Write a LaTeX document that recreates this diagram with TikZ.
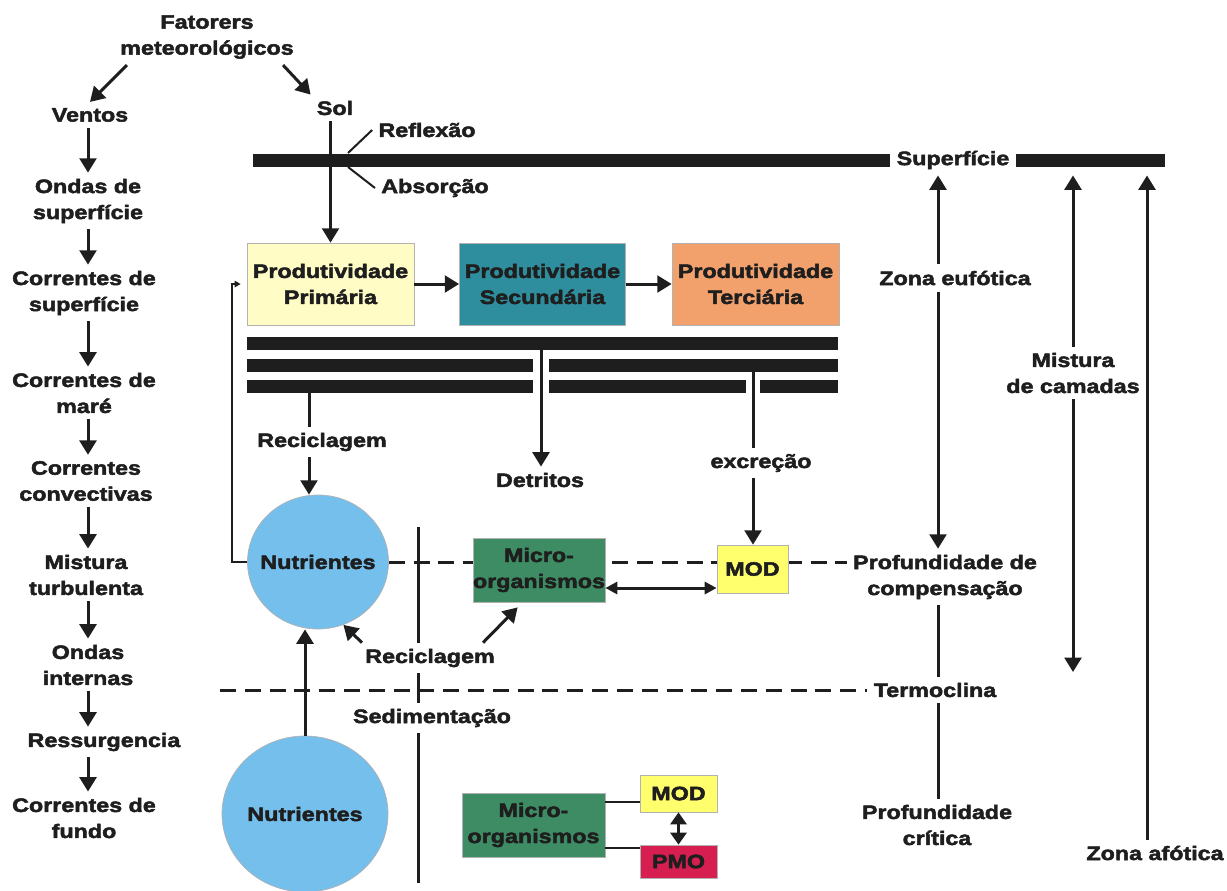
\documentclass[tikz,border=0pt]{standalone}
\usepackage{fontspec}
\setmainfont{Liberation Sans}[FakeStretch=1.2, BoldFeatures={FakeBold=2.5}]
\usepackage{tikz}
\usetikzlibrary{shapes.geometric, arrows.meta, backgrounds, calc}

\definecolor{tinta}{RGB}{30,30,30}
\definecolor{primcor}{RGB}{255,252,198}
\definecolor{seccor}{RGB}{46,142,158}
\definecolor{tercor}{RGB}{242,160,108}
\definecolor{nutcor}{RGB}{116,191,236}
\definecolor{miccor}{RGB}{62,140,100}
\definecolor{modcor}{RGB}{255,255,110}
\definecolor{pmocor}{RGB}{214,30,80}

\begin{document}
\begin{tikzpicture}[x = 0.025cm, y = -0.025cm, line width = 0.075cm, color = tinta,
    >={Triangle[length = 0.36cm, width = 0.42cm]},
    rotulo/.style = {font = \fontsize{13.8}{18.5}\selectfont\bfseries, text = tinta, align = center, inner sep = 0.12cm},
    caixa/.style = {rotulo, draw = gray!60, line width = 0.5pt, inner sep = 0pt},
    bola/.style = {caixa, ellipse},
    barra/.style = {line width = 0.325cm},
    tracejado/.style = {draw = tinta, line width = 0.075cm, dash pattern = on 0.4cm off 0.22cm},
    fino/.style = {line width = 0.05cm},
    laco/.style = {fino, -{Triangle[length = 0.15cm, width = 0.16cm]}, shorten > = 0.15cm},
    duplo/.style = {<->, >={Triangle[length = 0.3cm, width = 0.3cm]}},
    gordo/.style = {<->, >={Triangle[length = 0.3cm, width = 0.4cm]}}]
    \def \upx {0.025cm} % one pixel of the drawing

    \useasboundingbox (0,0) rectangle (1227,890);

    %% causes of mixing, left column
    \node [rotulo] (fator) at (207,37) {Fatorers\\meteorológicos};
    \node [rotulo] (vent) at (90,115) {Ventos};
    \node [rotulo] (ondsup) at (88,201) {Ondas de\\superfície};
    \node [rotulo] (corsup) at (84,293) {Correntes de\\superfície};
    \node [rotulo] (cormar) at (84,393) {Correntes de\\maré};
    \node [rotulo] (corconv) at (86,481) {Correntes\\convectivas};
    \node [rotulo] (mistt) at (86,575) {Mistura\\turbulenta};
    \node [rotulo] (ondint) at (88,665) {Ondas\\internas};
    \node [rotulo] (ress) at (104,742) {Ressurgencia};
    \node [rotulo] (corfun) at (84,818) {Correntes de\\fundo};

    \coordinate (colx) at (88,0);
    \foreach \a/\b in {vent/ondsup, ondsup/corsup, corsup/cormar, cormar/corconv,
                       corconv/mistt, mistt/ondint, ondint/ress, ress/corfun}
    {
        \draw[->] (colx |- \a.south) -- (colx |- \b.north);
    }

    %% sun and surface
    \node [rotulo] (sol) at (335,108) {Sol};
    \draw[->] ([shift = {(-80,0)}]fator.south) -- (vent.north);
    \draw[->] ([shift = {(76,0)}]fator.south) -- (sol.north west);

    \node [rotulo] (sup) at (953,160) {Superfície};
    \draw[barra] (253,160) -- (sup.west);
    \draw[barra] (sup.east) -- (1165,160);

    \node [rotulo] (refl) at (427,130) {Reflexão};
    \node [rotulo] (abso) at (435,188) {Absorção};
    \coordinate (rflA) at (348,153);
    \coordinate (rflB) at (348,167);
    \draw[fino] (rflA) -- (refl.west);
    \draw[fino] (rflB) -- (abso.west);

    %% productivity chain
    \node [caixa, fill = primcor, minimum width = 167*\upx, minimum height = 82*\upx] (prim) at (330.5,284) {Produtividade\\Primária};
    \node [caixa, fill = seccor, minimum width = 166*\upx, minimum height = 82*\upx] (sec) at (542.5,284) {Produtividade\\Secundária};
    \node [caixa, fill = tercor, minimum width = 167*\upx, minimum height = 82*\upx] (ter) at (755.5,284) {Produtividade\\Terciária};
    \draw[->] (prim.south |- sol.south) -- (prim.north);
    \draw[->] (prim) -- (sec);
    \draw[->] (sec) -- (ter);

    \foreach \xa/\xb/\y in {247/838/343, 247/533/365, 549/838/365,
                            247/533/386, 549/746/386, 760/838/386}
    {
        \draw[barra] (\xa,\y) -- (\xb,\y);
    }

    \node [rotulo] (recA) at (322,442) {Reciclagem};
    \node [rotulo] (detr) at (540,480) {Detritos};
    \node [rotulo] (excr) at (761,463) {excreção};

    %% upper layer
    \node [bola, fill = nutcor, minimum width = 141*\upx, minimum height = 134*\upx] (nut1) at (318,562) {\makebox[0pt]{Nutrientes}};
    \node [caixa, fill = miccor, minimum width = 132*\upx, minimum height = 64*\upx] (micro1) at (539,570) {Micro-\\organismos};
    \node [caixa, fill = modcor, minimum width = 71*\upx, minimum height = 48*\upx] (mod1) at (752.5,569) {MOD};
    \node [rotulo] (comp) at (945,577) {Profundidade de\\compensação};

    \begin{scope}[on background layer]
        \draw[tracejado] (nut1.east) -- (nut1.east -| comp.west);
    \end{scope}

    \coordinate (recx) at (309,393);
    \draw (recx) -- (recx |- recA.north);
    \draw[->] (recx |- recA.south) -- (recx |- nut1.north);

    \coordinate (detx) at (541,349);
    \draw[->] (detx) -- (detx |- detr.north);

    \coordinate (excx) at (753,372);
    \draw (excx) -- (excx |- excr.north);
    \draw[->] (excx |- excr.south) -- (excx |- mod1.north);

    \draw[laco] (nut1.west) -- ++(-15,0) |- (prim.west);
    \draw[duplo] ([shift = {(0,18)}]micro1.east) -- ([shift = {(0,19)}]mod1.west);

    \node [rotulo] (recB) at (430,658) {Reciclagem};
    \draw[->] ([shift = {(3,0)}]recB.north west) -- (nut1.-68);
    \draw[->] ([shift = {(-18,0)}]recB.north east) -- ([shift = {(45,5)}]micro1.south west);

    %% thermocline and deep layer
    \node [rotulo] (termo) at (935,690) {Termoclina};
    \coordinate (termE) at (220,690);
    \draw[tracejado] (termE) -- (termo.west);

    \node [rotulo] (sed) at (432,718) {Sedimentação};
    \coordinate (sedx) at (418,527);
    \coordinate (sedbot) at (418,883);
    \draw (sedx) -- (sedx |- recB.north);
    \draw (sedx |- recB.south) -- (sedx |- sed.north);
    \draw (sedx |- sed.south) -- (sedbot);

    \node [bola, fill = nutcor, minimum width = 166*\upx, minimum height = 156*\upx] (nut2) at (305,814) {\makebox[0pt]{Nutrientes}};
    \draw[->] (nut2.north) -- (nut2.north |- nut1.south);

    \node [caixa, fill = miccor, minimum width = 143*\upx, minimum height = 64*\upx] (micro2) at (533.5,825) {Micro-\\organismos};
    \node [caixa, fill = modcor, minimum width = 77*\upx, minimum height = 37*\upx] (mod2) at (678.5,793.5) {MOD};
    \node [caixa, fill = pmocor, minimum width = 77*\upx, minimum height = 33*\upx] (pmo) at (678.5,861.5) {PMO};
    \draw[fino] ([shift = {(0,-10)}]mod2.south west) -- ++(-35,0);
    \draw[fino] ([shift = {(0,3)}]pmo.north west) -- ++(-35,0);
    \draw[gordo] (mod2.south) -- (pmo.north);

    %% depth scales, right side
    \node [rotulo] (zeuf) at (955,278) {Zona eufótica};
    \node [rotulo] (crit) at (937,825) {Profundidade\\crítica};
    \node [rotulo] (mistc) at (1073,373) {Mistura\\de camadas};
    \node [rotulo] (afot) at (1155,853) {Zona afótica};

    \coordinate (eufx) at (938,0);
    \coordinate (afox) at (1147,0);
    \coordinate (mixbot) at (1073,672);
    \draw[->] (eufx |- zeuf.north) -- (eufx |- sup.south);
    \draw[->] (eufx |- zeuf.south) -- (eufx |- comp.north);
    \draw (eufx |- comp.south) -- (eufx |- termo.north);
    \draw (eufx |- termo.south) -- (eufx |- crit.north);
    \draw[->] (mistc.north) -- (mistc.north |- sup.south);
    \draw[->] (mistc.south) -- (mixbot);
    \draw[->] (afox |- afot.north) -- (afox |- sup.south);

\end{tikzpicture}
\end{document}
